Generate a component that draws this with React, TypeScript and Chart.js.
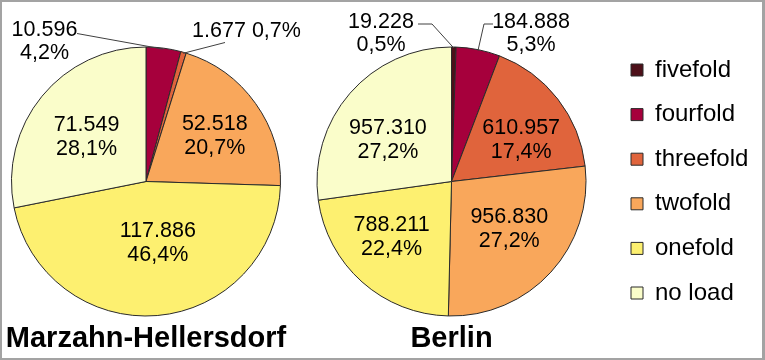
import React, { useEffect, useRef } from "react";
import { Chart, registerables } from "chart.js";

Chart.register(...registerables);

// Households by load level, two regions
const categories = ["fivefold", "fourfold", "threefold", "twofold", "onefold", "no load"];
const marzahnValues = [0, 10596, 1677, 52518, 117886, 71549];
const berlinValues = [19228, 184888, 610957, 956830, 788211, 957310];
const regionNames = ["Marzahn-Hellersdorf", "Berlin"];
const sliceColors = ["#4d1019", "#a6003c", "#e0643c", "#f9a75b", "#fdf070", "#fafdca"];

const FONT = "'Liberation Sans', Arial, sans-serif";
const PIE_RADIUS = 134.5;

type InsideLabel = { index: number; radius: number; turn: number };
type OutsideLabel = {
  index: number;
  dx: number;
  dy: number;
  singleLine?: boolean;
  path: [number, number][];
};
type LabelLayout = { inside: InsideLabel[]; outside: OutsideLabel[] };

const marzahnLabels: LabelLayout = {
  inside: [
    { index: 3, radius: 0.62, turn: 1 },
    { index: 4, radius: 0.45, turn: -6.5 },
    { index: 5, radius: 0.56, turn: -1.5 },
  ],
  outside: [
    { index: 1, dx: -101.5, dy: -142, path: [[-69, -148]] },
    { index: 2, dx: 100.5, dy: -152, singleLine: true, path: [[79, -139]] },
  ],
};

const berlinLabels: LabelLayout = {
  inside: [
    { index: 2, radius: 0.61, turn: 6 },
    { index: 3, radius: 0.55, turn: -3.7 },
    { index: 4, radius: 0.6, turn: 6.3 },
    { index: 5, radius: 0.57, turn: -7 },
  ],
  outside: [
    { index: 0, dx: -70.5, dy: -150, path: [[-33.5, -157.5], [-19.5, -157.5]] },
    { index: 1, dx: 79.5, dy: -150, path: [[41.5, -157.5], [32.5, -157.5]] },
  ],
};

const formatInt = (v: number) =>
  String(Math.round(v)).replace(/\B(?=(\d{3})+(?!\d))/g, ".");
const formatPct = (p: number) => p.toFixed(1).replace(".", ",") + "%";

function pieLabelsPlugin(layout: LabelLayout, title: string) {
  return {
    id: "pieLabels",
    afterDraw(chart: any) {
      const ctx: CanvasRenderingContext2D = chart.ctx;
      const meta = chart.getDatasetMeta(0);
      const values: number[] = chart.data.datasets[0].data;
      const total = values.reduce((a, b) => a + b, 0);
      const first = meta.data[0];
      const cx = first.x;
      const cy = first.y;
      const size = 21.5;
      const cap = size * 0.358;

      ctx.save();
      ctx.fillStyle = "#000";
      ctx.textAlign = "center";
      ctx.textBaseline = "alphabetic";
      ctx.font = `${size}px ${FONT}`;

      layout.inside.forEach(({ index, radius, turn }) => {
        const arc = meta.data[index];
        const mid = (arc.startAngle + arc.endAngle) / 2 + (turn * Math.PI) / 180;
        const r = arc.outerRadius * radius;
        const x = cx + Math.cos(mid) * r;
        const y = cy + Math.sin(mid) * r;
        const v = values[index];
        ctx.fillText(formatInt(v), x, y - 12 + cap);
        ctx.fillText(formatPct((v / total) * 100), x, y + 12 + cap);
      });

      layout.outside.forEach(({ index, dx, dy, singleLine, path }) => {
        const arc = meta.data[index];
        const mid = (arc.startAngle + arc.endAngle) / 2;
        const v = values[index];
        const valueText = formatInt(v);
        const pctText = formatPct((v / total) * 100);
        const x = cx + dx;
        const y = cy + dy;
        if (singleLine) {
          ctx.fillText(valueText + " " + pctText, x, y + cap);
        } else {
          ctx.fillText(valueText, x, y - 11.5 + cap);
          ctx.fillText(pctText, x, y + 11.5 + cap);
        }
        ctx.beginPath();
        ctx.strokeStyle = "#404040";
        ctx.lineWidth = 1;
        path.forEach(([px, py], i) => {
          if (i === 0) ctx.moveTo(cx + px, cy + py);
          else ctx.lineTo(cx + px, cy + py);
        });
        const ex = cx + Math.cos(mid) * (arc.outerRadius - 1);
        const ey = cy + Math.sin(mid) * (arc.outerRadius - 1);
        ctx.lineTo(ex, ey);
        ctx.stroke();
      });

      ctx.font = `bold 29px ${FONT}`;
      ctx.fillText(title, cx, 347);
      ctx.restore();
    },
  };
}

function makePie(
  canvas: HTMLCanvasElement,
  values: number[],
  layout: LabelLayout,
  title: string,
  showLegend: boolean,
  padding: { top: number; bottom: number; left: number; right: number }
) {
  return new Chart(canvas, {
    type: "pie",
    data: {
      labels: categories,
      datasets: [
        {
          data: values,
          backgroundColor: sliceColors,
          borderColor: "#2a2a2a",
          borderWidth: 1,
        },
      ],
    },
    options: {
      responsive: false,
      animation: false,
      devicePixelRatio: 1,
      radius: PIE_RADIUS,
      layout: { padding },
      plugins: {
        tooltip: { enabled: false },
        legend: {
          display: showLegend,
          position: "right",
          labels: {
            color: "#000",
            font: { family: FONT, size: 24 },
            boxWidth: 12,
            boxHeight: 12,
            padding: 20.6,
          },
        },
      },
    },
    plugins: [pieLabelsPlugin(layout, title)],
  } as any);
}

export default function App() {
  const leftRef = useRef<HTMLCanvasElement>(null);
  const rightRef = useRef<HTMLCanvasElement>(null);

  useEffect(() => {
    const left = makePie(leftRef.current!, marzahnValues, marzahnLabels, regionNames[0], false, {
      top: 47,
      bottom: 44,
      left: 0,
      right: 18,
    });
    const right = makePie(rightRef.current!, berlinValues, berlinLabels, regionNames[1], true, {
      top: 3,
      bottom: 0,
      left: 2.6,
      right: 6.6,
    });
    return () => {
      left.destroy();
      right.destroy();
    };
  }, []);

  return (
    <div
      style={{
        position: "fixed",
        left: 0,
        top: 0,
        width: 765,
        height: 360,
        background: "#fff",
        overflow: "hidden",
      }}
    >
      <canvas
        ref={leftRef}
        width={310}
        height={360}
        style={{ position: "absolute", left: 0, top: 0, width: 310, height: 360 }}
      />
      <canvas
        ref={rightRef}
        width={475}
        height={360}
        style={{ position: "absolute", left: 290, top: 0, width: 475, height: 360 }}
      />
      <div
        style={{
          position: "absolute",
          left: 0,
          top: 0,
          width: 765,
          height: 360,
          boxSizing: "border-box",
          borderTop: "2px solid #a3a3a3",
          borderLeft: "2px solid #a3a3a3",
          borderBottom: "2px solid #a3a3a3",
          borderRight: "3px solid #a3a3a3",
          pointerEvents: "none",
        }}
      />
    </div>
  );
}
